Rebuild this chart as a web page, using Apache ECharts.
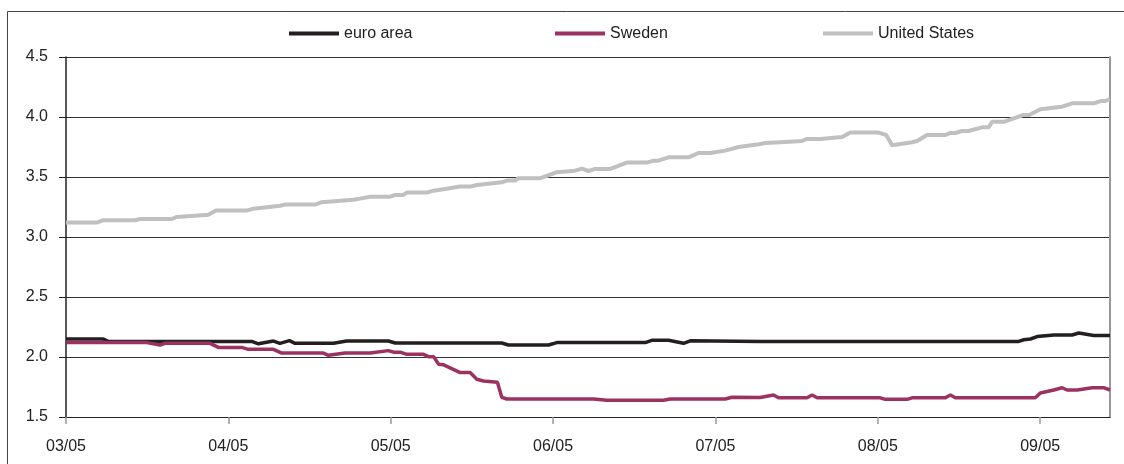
<!DOCTYPE html>
<html>
<head>
<meta charset="utf-8">
<script src="https://cdn.jsdelivr.net/npm/echarts@6/dist/echarts.min.js"></script>
<style>
  html, body { margin: 0; padding: 0; background: #fff; }
  #chart { width: 1124px; height: 464px; }
</style>
</head>
<body>
<div id="chart"></div>
<script>
// x = months since start of 03/05, y = per cent
const tickLabels = ['03/05', '04/05', '05/05', '06/05', '07/05', '08/05', '09/05']
const xEnd = 6.43

const euroArea = [
  [0, 2.15], [0.23, 2.15], [0.26, 2.13], [1.144, 2.13], [1.185, 2.11], [1.278, 2.133],
  [1.318, 2.114], [1.376, 2.136], [1.411, 2.114], [1.647, 2.114], [1.729, 2.133],
  [1.986, 2.133], [2.027, 2.117], [2.684, 2.117], [2.725, 2.10], [2.972, 2.10],
  [3.023, 2.12], [3.567, 2.12], [3.608, 2.139], [3.711, 2.139], [3.803, 2.114],
  [3.845, 2.135], [4.276, 2.13], [5.868, 2.13], [5.899, 2.144], [5.94, 2.15],
  [5.981, 2.17], [6.084, 2.183], [6.197, 2.183], [6.238, 2.20], [6.33, 2.18], [6.43, 2.18]
]

const sweden = [
  [0, 2.12], [0.497, 2.12], [0.579, 2.10], [0.61, 2.114], [0.887, 2.114], [0.938, 2.08],
  [1.082, 2.08], [1.123, 2.064], [1.278, 2.064], [1.329, 2.033], [1.585, 2.033],
  [1.616, 2.014], [1.719, 2.033], [1.874, 2.033], [1.986, 2.053], [2.017, 2.04],
  [2.058, 2.04], [2.099, 2.022], [2.202, 2.022], [2.233, 2.003], [2.264, 2.003],
  [2.295, 1.94], [2.326, 1.935], [2.428, 1.87], [2.489, 1.87], [2.53, 1.814],
  [2.571, 1.80], [2.657, 1.79], [2.684, 1.664], [2.715, 1.65], [3.249, 1.65],
  [3.331, 1.64], [3.68, 1.64], [3.721, 1.65], [4.06, 1.65], [4.101, 1.665],
  [4.276, 1.662], [4.358, 1.683], [4.389, 1.66], [4.564, 1.66], [4.595, 1.683],
  [4.626, 1.66], [5.015, 1.66], [5.046, 1.647], [5.18, 1.647], [5.211, 1.66],
  [5.416, 1.66], [5.447, 1.683], [5.477, 1.66], [5.97, 1.66], [6.001, 1.70],
  [6.084, 1.725], [6.135, 1.744], [6.166, 1.725], [6.228, 1.725], [6.32, 1.744],
  [6.391, 1.744], [6.43, 1.725]
]

const unitedStates = [
  [0, 3.12], [0.19, 3.12], [0.23, 3.14], [0.425, 3.14], [0.456, 3.15], [0.651, 3.15],
  [0.682, 3.167], [0.877, 3.186], [0.924, 3.22], [1.113, 3.22], [1.154, 3.236],
  [1.318, 3.26], [1.349, 3.27], [1.534, 3.27], [1.575, 3.29], [1.77, 3.31],
  [1.811, 3.32], [1.873, 3.336], [1.996, 3.336], [2.027, 3.35], [2.076, 3.35],
  [2.099, 3.37], [2.222, 3.37], [2.263, 3.386], [2.335, 3.40], [2.428, 3.42],
  [2.489, 3.42], [2.531, 3.433], [2.684, 3.456], [2.715, 3.47], [2.766, 3.47],
  [2.787, 3.49], [2.921, 3.49], [2.962, 3.51], [3.023, 3.54], [3.136, 3.553],
  [3.177, 3.57], [3.218, 3.55], [3.259, 3.567], [3.352, 3.567], [3.455, 3.62],
  [3.578, 3.62], [3.619, 3.636], [3.648, 3.636], [3.711, 3.664], [3.834, 3.664],
  [3.896, 3.70], [3.968, 3.70], [4.06, 3.72], [4.142, 3.75], [4.256, 3.77],
  [4.307, 3.783], [4.399, 3.79], [4.533, 3.80], [4.564, 3.817], [4.646, 3.817],
  [4.78, 3.833], [4.831, 3.87], [5.005, 3.87], [5.052, 3.85], [5.088, 3.764],
  [5.211, 3.79], [5.242, 3.80], [5.303, 3.85], [5.416, 3.85], [5.447, 3.867],
  [5.477, 3.867], [5.519, 3.883], [5.558, 3.883], [5.642, 3.914], [5.683, 3.914],
  [5.704, 3.96], [5.775, 3.96], [5.898, 4.017], [5.933, 4.017], [6.001, 4.064],
  [6.135, 4.086], [6.197, 4.114], [6.33, 4.114], [6.371, 4.133], [6.402, 4.133],
  [6.43, 4.15]
]

const font = "'Liberation Sans', Arial, sans-serif"

function legendFor(name, left) {
  return {
    data: [name],
    left: left,
    top: 25,
    padding: 0,
    icon: 'rect',
    itemWidth: 50,
    itemHeight: 4,
    selectedMode: false,
    textStyle: { fontSize: 16, lineHeight: 17, color: '#222', fontFamily: font }
  }
}

let chart = echarts.init(document.getElementById('chart'))

let option = {
  animation: false,
  backgroundColor: '#fff',
  textStyle: { fontFamily: font },
  graphic: [
    {
      type: 'rect',
      shape: { x: 7.5, y: 11.5, width: 1140, height: 480 },
      style: { fill: 'none', stroke: '#444', lineWidth: 1 },
      silent: true
    }
  ],
  legend: [
    legendFor('euro area', 289),
    legendFor('Sweden', 555),
    legendFor('United States', 823)
  ],
  grid: { left: 66, right: 14, top: 57, bottom: 47 },
  xAxis: {
    type: 'value',
    min: 0,
    max: xEnd,
    interval: 1,
    splitLine: { show: false },
    axisLine: { show: true, onZero: false, lineStyle: { color: '#222', width: 1 } },
    axisTick: { show: true, length: 7, customValues: [0, 1, 2, 3, 4, 5, 6], lineStyle: { color: '#999', width: 1.5 } },
    axisLabel: {
      customValues: [0, 1, 2, 3, 4, 5, 6],
      margin: 22,
      fontSize: 16,
      color: '#222',
      fontFamily: font,
      formatter: v => tickLabels[Math.round(v)] || ''
    }
  },
  yAxis: [
    {
      type: 'value',
      min: 1.5,
      max: 4.5,
      interval: 0.5,
      axisLine: { show: true, lineStyle: { color: '#222', width: 1.5 } },
      axisTick: { show: true, length: 7, lineStyle: { color: '#222' } },
      axisLabel: {
        margin: 18,
        fontSize: 16,
        color: '#222',
        fontFamily: font,
        formatter: v => v.toFixed(1)
      },
      splitLine: { show: true, lineStyle: { color: '#333', width: 1 } }
    },
    {
      type: 'value',
      position: 'right',
      min: 1.5,
      max: 4.5,
      axisLine: { show: true, lineStyle: { color: '#999', width: 2 } },
      axisTick: { show: false },
      axisLabel: { show: false },
      splitLine: { show: false }
    }
  ],
  series: [
    {
      name: 'euro area',
      type: 'line',
      data: euroArea,
      showSymbol: false,
      color: '#231f20',
      lineStyle: { width: 3.5, color: '#231f20' }
    },
    {
      name: 'Sweden',
      type: 'line',
      data: sweden,
      showSymbol: false,
      color: '#9b3262',
      lineStyle: { width: 3.5, color: '#9b3262' }
    },
    {
      name: 'United States',
      type: 'line',
      data: unitedStates,
      showSymbol: false,
      color: '#c0c0c0',
      lineStyle: { width: 4, color: '#c0c0c0' }
    }
  ]
}

chart.setOption(option)
</script>
</body>
</html>
